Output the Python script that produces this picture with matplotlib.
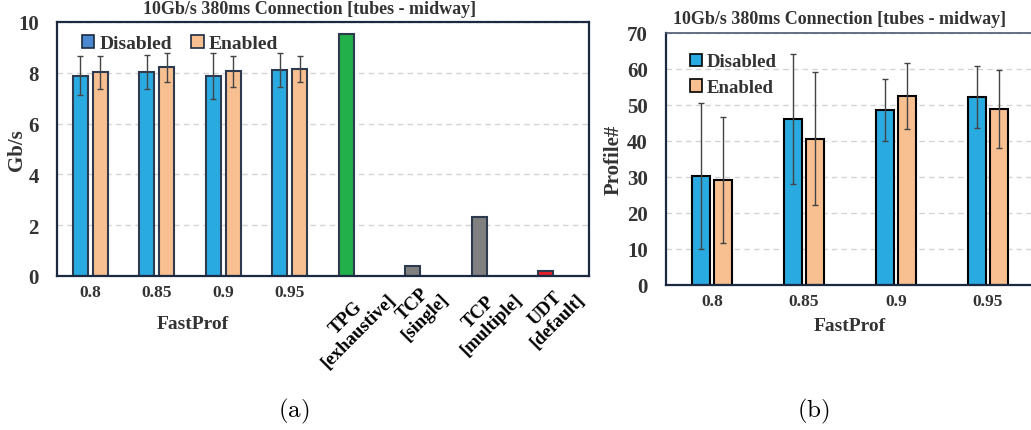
import numpy as np
import matplotlib
matplotlib.use("Agg")
import matplotlib.pyplot as plt
from matplotlib.patches import Patch
from matplotlib.transforms import ScaledTranslation

# ---- data -------------------------------------------------------------
fastprof = ["0.8", "0.85", "0.9", "0.95"]
baselines = ["TPG\n[exhaustive]", "TCP\n[single]", "TCP\n[multiple]", "UDT\n[default]"]

# throughput (Gb/s)
thr_disabled = [7.89, 8.02, 7.86, 8.11]
thr_disabled_err = [0.78, 0.67, 0.90, 0.67]
thr_enabled = [8.02, 8.21, 8.06, 8.14]
thr_enabled_err = [0.66, 0.58, 0.60, 0.52]
thr_baselines = [9.54, 0.41, 2.33, 0.20]

# number of profiles
prof_disabled = [30.3, 46.2, 48.6, 52.1]
prof_disabled_err = [20.3, 18.1, 8.6, 8.6]
prof_enabled = [29.2, 40.6, 52.6, 48.9]
prof_enabled_err = [17.4, 18.5, 9.2, 10.8]

# ---- style -------------------------------------------------------------
BLUE = "#29abe2"
ORANGE = "#f8c091"
GREEN = "#22b04b"
GRAY = "#808080"
RED = "#e8202a"
LEG_BLUE = "#4a89cf"
SPINE = "#1b2a41"
EDGE = "#2e3b4e"
TXT = "#333333"
ERR = "#444444"
baseline_colors = [GREEN, GRAY, GRAY, RED]

plt.rcParams["font.family"] = ["Liberation Serif", "DejaVu Serif"]
plt.rcParams["font.weight"] = "bold"
plt.rcParams["axes.labelweight"] = "bold"
plt.rcParams["mathtext.fontset"] = "cm"

W, H = 1031, 431
fig = plt.figure(figsize=(W / 100, H / 100), dpi=100)


def fx(px):
    return px / W


def fy(py):
    return 1 - py / H


def style_axes(ax, ymax, step):
    ax.set_ylim(0, ymax)
    ax.set_yticks(np.arange(0, ymax + 0.001, step))
    ax.yaxis.grid(True, color="#d4d4d4", linestyle=(0, (4, 3)), linewidth=1.0)
    ax.set_axisbelow(True)
    for s in ax.spines.values():
        s.set_color(SPINE)
        s.set_linewidth(1.6)
    ax.tick_params(axis="both", length=0, colors=TXT)
    ax.tick_params(axis="y", labelsize=15, pad=13)
    ax.tick_params(axis="x", labelsize=12.5, pad=6)


# ---- (a) throughput ------------------------------------------------------
ax1 = fig.add_axes([fx(57), fy(277), fx(589 - 57), (277 - 23) / H])
n_fp = len(fastprof)
x_fp = np.arange(n_fp)
x_bl = np.arange(n_fp, n_fp + len(baselines))
off, bw = 0.147, 0.225
ek = dict(ecolor=ERR, elinewidth=1.0, capsize=2.5, capthick=1.0)

ax1.bar(x_fp - off, thr_disabled, bw, color=BLUE, edgecolor=EDGE, linewidth=1.5,
        yerr=thr_disabled_err, error_kw=ek, zorder=2)
ax1.bar(x_fp + off, thr_enabled, bw, color=ORANGE, edgecolor=EDGE, linewidth=1.5,
        yerr=thr_enabled_err, error_kw=ek, zorder=2)
ax1.bar(x_bl - off, thr_baselines, bw, color=baseline_colors, edgecolor=EDGE,
        linewidth=1.5, zorder=2)

style_axes(ax1, 10, 2)
ax1.set_xlim(-0.5, n_fp + len(baselines) - 0.5)
ax1.set_xticks(np.concatenate([x_fp, x_bl]))
ax1.set_xticklabels(fastprof + baselines)
shift_up = ScaledTranslation(-3 / 72, 5 / 72, fig.dpi_scale_trans)
for lbl in ax1.get_xticklabels()[n_fp:]:
    lbl.set_rotation(45)
    lbl.set_fontsize(13.5)
    lbl.set_ha("center")
    lbl.set_va("top")
    lbl.set_multialignment("center")
    lbl.set_linespacing(1.05)
    lbl.set_color("black")
    lbl.set_transform(lbl.get_transform() + shift_up)
ax1.set_ylabel("Gb/s", fontsize=15, color=TXT)
ax1.yaxis.set_label_coords((27 - 57) / 532, 0.5)

h1 = [Patch(facecolor=LEG_BLUE, edgecolor=SPINE, linewidth=1.2),
      Patch(facecolor=ORANGE, edgecolor=SPINE, linewidth=1.2)]
leg1 = ax1.legend(h1, ["Disabled", "Enabled"], ncol=2, frameon=False,
                  loc="upper left", bbox_to_anchor=((74 - 57) / 532, (277 - 28) / 254),
                  borderaxespad=0, handlelength=0.65, handleheight=0.65,
                  handletextpad=0.25, columnspacing=1.0, fontsize=14)
for t in leg1.get_texts():
    t.set_color(TXT)

fig.text(fx(310), fy(10), "10Gb/s 380ms Connection [tubes - midway]",
         ha="center", va="center", fontsize=13, color=TXT)
fig.text(fx(193), fy(325), "FastProf", ha="center", va="center", fontsize=14, color=TXT)

# ---- (b) profile count -------------------------------------------------
ax2 = fig.add_axes([fx(666), fy(286), fx(4 * 92), (286 - 34) / H])
x2 = np.arange(len(fastprof))
off2, bw2 = 0.122, 0.195
ax2.bar(x2 - off2, prof_disabled, bw2, color=BLUE, edgecolor="black", linewidth=1.5,
        yerr=prof_disabled_err, error_kw=ek, zorder=2)
ax2.bar(x2 + off2, prof_enabled, bw2, color=ORANGE, edgecolor="black", linewidth=1.5,
        yerr=prof_enabled_err, error_kw=ek, zorder=2)
style_axes(ax2, 70, 10)
ax2.set_xlim(-0.5, len(fastprof) - 0.5)
ax2.set_xticks(x2)
ax2.set_xticklabels(fastprof)
ax2.spines["top"].set_color("#4a5a70")
ax2.spines["top"].set_linewidth(1.2)
ax2.set_ylabel("Profile#", fontsize=15, color=TXT)
ax2.yaxis.set_label_coords((624 - 666) / 368, 0.5)

h2 = [Patch(facecolor=BLUE, edgecolor="black", linewidth=1.2),
      Patch(facecolor=ORANGE, edgecolor="black", linewidth=1.2)]
leg2 = ax2.legend(h2, ["Disabled", "Enabled"], ncol=1, frameon=False,
                  loc="upper left", bbox_to_anchor=((682 - 666) / 368, (286 - 47) / 252),
                  borderaxespad=0, handlelength=0.65, handleheight=0.65,
                  handletextpad=0.25, labelspacing=0.45, fontsize=13.5)
for t in leg2.get_texts():
    t.set_color(TXT)

fig.text(fx(840), fy(20), "10Gb/s 380ms Connection [tubes - midway]",
         ha="center", va="center", fontsize=13, color=TXT)
fig.text(fx(850), fy(327), "FastProf", ha="center", va="center", fontsize=14, color=TXT)

# ---- sub-captions ------------------------------------------------------
fig.text(fx(294), fy(411), r"$\mathrm{(a)}$", ha="center", va="center", fontsize=18)
fig.text(fx(813), fy(411), r"$\mathrm{(b)}$", ha="center", va="center", fontsize=18)

fig.savefig("out.png", dpi=100)
